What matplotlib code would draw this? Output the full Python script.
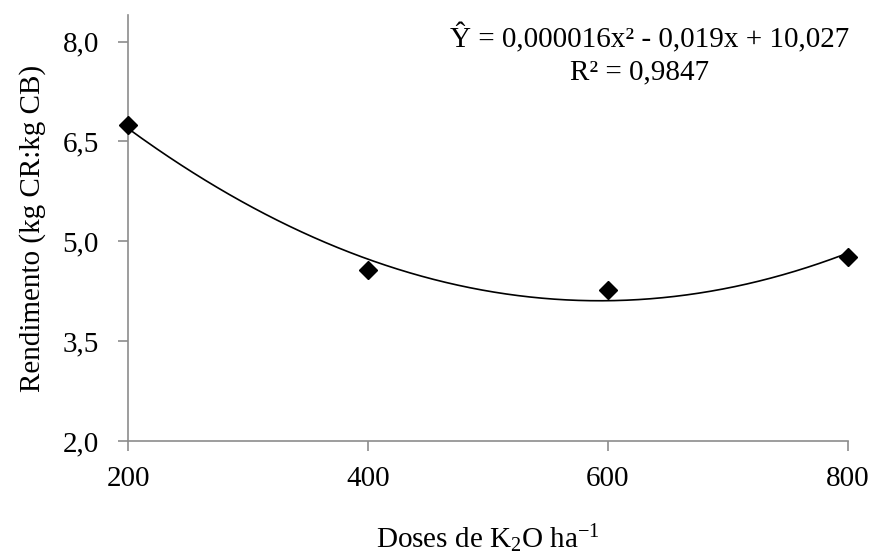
import numpy as np
import matplotlib
matplotlib.use("Agg")
import matplotlib.pyplot as plt

# Data
doses = [200, 400, 600, 800]
rendimento = [6.75, 4.57, 4.27, 4.77]
yticks = [2.0, 3.5, 5.0, 6.5, 8.0]
ytick_labels = ["2,0", "3,5", "5,0", "6,5", "8,0"]
xticks = [200, 400, 600, 800]
equation = "Ŷ = 0,000016x² - 0,019x + 10,027"
r2_text = "R² = 0,9847"

plt.rcParams['font.family'] = ['Liberation Serif', 'DejaVu Serif']
plt.rcParams['mathtext.fontset'] = 'custom'
plt.rcParams['mathtext.rm'] = 'Liberation Serif'
plt.rcParams['mathtext.it'] = 'Liberation Serif:italic'
plt.rcParams['mathtext.bf'] = 'Liberation Serif:bold'
plt.rcParams['mathtext.default'] = 'rm'

fig = plt.figure(figsize=(8.75, 5.56), dpi=100)
ax = fig.add_axes([0.1463, 0.2068, 0.969 - 0.1463, 0.973 - 0.2068])

# Quadratic trend fitted to the data
coef = np.polyfit(doses, rendimento, 2)
xs = np.linspace(min(doses), max(doses), 300)
ax.plot(xs, np.polyval(coef, xs), color='black', lw=1.2, zorder=2)
ax.plot(doses, rendimento, linestyle='none', marker='D', markersize=9.5,
        color='black', zorder=3, clip_on=False)

ax.set_xlim(200, 800)
ax.set_ylim(2.0, 8.4)
ax.set_xticks(xticks)
ax.set_xticklabels([str(v) for v in xticks])
ax.set_yticks(yticks)
ax.set_yticklabels(ytick_labels)

for s in ['top', 'right']:
    ax.spines[s].set_visible(False)
for s in ['left', 'bottom']:
    ax.spines[s].set_color('#8c8c8c')
    ax.spines[s].set_linewidth(1.2)

ax.tick_params(axis='both', direction='out', length=7, width=1.2,
               color='#8c8c8c', labelsize=21, labelcolor='black')
ax.tick_params(axis='y', pad=14)
ax.tick_params(axis='x', pad=11)

ax.set_xlabel("Doses de K$_2$O ha$^{-1}$", fontsize=21, labelpad=22)
ax.set_ylabel("Rendimento (kg CR:kg CB)", fontsize=21, labelpad=12)

ax.text(0.725, 0.946, equation, transform=ax.transAxes, ha='center', va='center',
        fontsize=21)
ax.text(0.711, 0.866, r2_text, transform=ax.transAxes, ha='center', va='center',
        fontsize=21)

fig.savefig("out.png", dpi=100)
